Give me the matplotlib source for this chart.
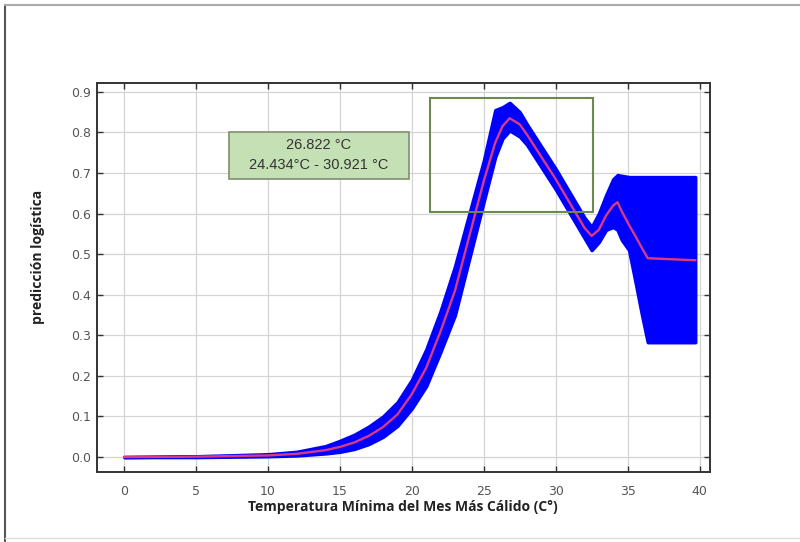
import matplotlib
matplotlib.use("Agg")
import matplotlib.pyplot as plt
from matplotlib.patches import Rectangle
from matplotlib.lines import Line2D
import numpy as np

# datos
temp = [0, 5, 10, 12, 14, 15, 16, 17, 18, 19, 20, 21, 22, 23, 24, 25, 25.8, 26.3, 26.8,
        27.5, 28, 29, 30, 31, 32, 32.5, 33, 33.5, 34, 34.3, 34.6, 35.1, 35.5, 36, 36.4, 39.7]
media = [0, .001, .004, .008, .017, .025, .036, .052, .074, .105, .155, .22, .31, .41,
         .545, .68, .775, .815, .835, .82, .795, .74, .685, .625, .565, .545, .56, .595,
         .62, .628, .605, .572, .547, .515, .49, .485]
superior = [0, .002, .007, .013, .027, .04, .055, .075, .10, .135, .19, .265, .36, .47,
            .60, .73, .855, .862, .873, .85, .82, .765, .71, .65, .59, .567, .60, .645,
            .685, .695, .693, .69, .69, .69, .69, .69]
inferior = [0, 0, .002, .004, .009, .013, .02, .032, .05, .077, .12, .175, .26, .35,
            .49, .63, .74, .785, .805, .79, .77, .715, .66, .60, .54, .51, .53, .56,
            .567, .56, .535, .51, .44, .35, .283, .283]

xticks = [0, 5, 10, 15, 20, 25, 30, 35, 40]
yticks = [0.0, 0.1, 0.2, 0.3, 0.4, 0.5, 0.6, 0.7, 0.8, 0.9]
texto = ["26.822 °C", "24.434°C - 30.921 °C"]

fig = plt.figure(figsize=(8, 5.42), dpi=100)
ax = fig.add_axes([0.121, 0.129, 0.766, 0.718])

ax.fill_between(temp, inferior, superior, color="#0000ff", edgecolor="#0000ff",
                lw=2.5, joinstyle="round", zorder=2)
ax.plot(temp, media, color="#d83a86", lw=1.7, zorder=3)

ax.set_xlim(-1.9, 40.7)
ax.set_ylim(-0.037, 0.922)
ax.set_xticks(xticks)
ax.set_yticks(yticks)
ax.set_yticklabels(["%.1f" % v for v in yticks])
ax.grid(True, color="#d4d4d4", lw=0.9, zorder=0)
ax.set_axisbelow(True)
ax.tick_params(direction="in", top=True, right=True, length=4, width=1,
               colors="#333333", labelcolor="#555555", labelsize=9)
ax.tick_params(axis="x", pad=9)
ax.tick_params(axis="y", pad=4)
for s in ax.spines.values():
    s.set_color("#333333")
    s.set_linewidth(1.4)

ax.set_xlabel("Temperatura Mínima del Mes Más Cálido (C°)", family="Open Sans",
              fontweight="bold", fontsize=10, color="#222222", labelpad=2)
ax.set_ylabel("predicción logística", family="Open Sans", fontweight="bold",
              fontsize=10, color="#222222")
ax.yaxis.set_label_coords(-0.085, 0.553)

# caja con el optimo
ax.add_patch(Rectangle((7.3, 0.685), 12.5, 0.115, facecolor="#c5e0b4",
                       edgecolor="#7f8f70", lw=1.2, zorder=4))
ax.text(13.55, 0.769, texto[0], ha="center", va="center", fontsize=10.5,
        family="Liberation Sans", color="#333333", zorder=5)
ax.text(13.55, 0.72, texto[1], ha="center", va="center", fontsize=10.5,
        family="Liberation Sans", color="#333333", zorder=5)
ax.add_patch(Rectangle((21.25, 0.604), 11.32, 0.281, facecolor="none",
                       edgecolor="#6a8a50", lw=1.5, zorder=4))

# bordes de la imagen
fig.add_artist(Line2D([0.006, 0.006], [0, 0.99], color="#555555", lw=1.5))
fig.add_artist(Line2D([0.006, 1], [0.99, 0.99], color="#aaaaaa", lw=1.5))
fig.add_artist(Line2D([0.006, 1], [0.008, 0.008], color="#dddddd", lw=1))

plt.savefig("out.png", dpi=100)
